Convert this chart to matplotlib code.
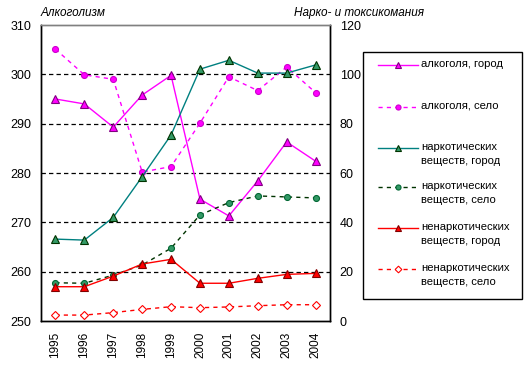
import matplotlib
matplotlib.use("Agg")
import matplotlib.pyplot as plt
from matplotlib.lines import Line2D
from matplotlib.patches import Rectangle

plt.rcParams['font.family'] = ['Liberation Sans', 'DejaVu Sans']

years = ['1995', '1996', '1997', '1998', '1999', '2000', '2001', '2002', '2003', '2004']
alc_city = [295.0, 294.0, 289.3, 295.8, 299.8, 274.7, 271.3, 278.4, 286.3, 282.4]
alc_village = [305.1, 299.9, 299.0, 280.2, 281.3, 290.1, 299.5, 296.7, 301.5, 296.3]
narc_city = [33.2, 32.8, 42.0, 58.5, 75.4, 102.1, 105.7, 100.5, 100.5, 103.8]
narc_village = [15.5, 15.3, 18.6, 22.7, 29.5, 43.0, 48.0, 50.7, 50.3, 49.9]
nonnarc_city = [13.9, 13.9, 18.2, 23.1, 25.0, 15.3, 15.3, 17.3, 18.9, 19.3]
nonnarc_village = [2.4, 2.4, 3.4, 4.7, 5.8, 5.4, 5.7, 6.2, 6.6, 6.6]

left_ticks = [250, 260, 270, 280, 290, 300, 310]
right_ticks = [0, 20, 40, 60, 80, 100, 120]

labels = ['алкоголя, город', 'алкоголя, село', 'наркотических\nвеществ, город',
          'наркотических\nвеществ, село', 'ненаркотических\nвеществ, город',
          'ненаркотических\nвеществ, село']

W, H = 530, 390
fig = plt.figure(figsize=(W / 100, H / 100), dpi=100)
L, R, T, B = 41, 330, 25, 321
ax = fig.add_axes([L / W, 1 - B / H, (R - L) / W, (B - T) / H])
ax2 = ax.twinx()

x = list(range(len(years)))
ax.set_xlim(-0.5, len(years) - 0.5)
ax.set_ylim(250, 310)
ax2.set_ylim(0, 120)

for v in [260, 270, 280, 290, 300]:
    ax.axhline(v, color='black', lw=0.9, ls=(0, (3.5, 2.5)), zorder=1)

styles = [
    dict(color='#FF00FF', ls='-', marker='^', mfc='#FF00FF', mec='#800080', ms=5.8),
    dict(color='#FF00FF', ls=(0, (3, 3)), marker='o', mfc='#FF00FF', mec='#CC00CC', ms=4.3),
    dict(color='#008080', ls='-', marker='^', mfc='#339966', mec='#003300', ms=5.8),
    dict(color='#003300', ls=(0, (3, 3)), marker='o', mfc='#339966', mec='#006633', ms=4.3),
    dict(color='#FF0000', ls='-', marker='^', mfc='#FF0000', mec='#800000', ms=5.8),
    dict(color='#FF0000', ls=(0, (3, 3)), marker='D', mfc='white', mec='#FF0000', ms=4.0),
]

series = [(ax, alc_city), (ax, alc_village), (ax2, narc_city), (ax2, narc_village),
          (ax2, nonnarc_city), (ax2, nonnarc_village)]
for (a, vals), st in zip(series, styles):
    a.plot(x, vals, lw=1.0, mew=0.8, zorder=3, **st)

ax.set_xticks(x)
ax.set_xticklabels(years, rotation=90, fontsize=8.5)
ax.set_yticks(left_ticks)
ax.set_yticklabels([str(t) for t in left_ticks], fontsize=9)
ax2.set_yticks(right_ticks)
ax2.set_yticklabels([str(t) for t in right_ticks], fontsize=9)
for a in (ax, ax2):
    a.tick_params(length=0, pad=7)
ax.tick_params(axis='x', pad=8)

for a in (ax, ax2):
    a.spines['top'].set_color('#808080')
    a.spines['top'].set_linewidth(1.0)
    a.spines['left'].set_linewidth(1.0)
    a.spines['right'].set_linewidth(1.0)
    a.spines['bottom'].set_linewidth(1.0)
ax2.patch.set_visible(False)

fig.text(41 / W, 1 - 13 / H, 'Алкоголизм', fontsize=8.5, style='italic', va='center', ha='left')
fig.text(294 / W, 1 - 13 / H, 'Нарко- и токсикомания', fontsize=8.5, style='italic', va='center', ha='left')

# legend box
lx0, lx1, ly0, ly1 = 363, 522, 52, 299
fig.patches.append(Rectangle((lx0 / W, 1 - ly1 / H), (lx1 - lx0) / W, (ly1 - ly0) / H,
                             transform=fig.transFigure, fill=False, ec='black', lw=1.0))
entry_y = [65, 107, 148, 187, 228, 269]
for yy, st, lab in zip(entry_y, styles, labels):
    fig.add_artist(Line2D([378 / W, 418 / W], [1 - yy / H, 1 - yy / H], transform=fig.transFigure,
                          color=st['color'], ls=st['ls'], lw=1.0))
    fig.add_artist(Line2D([398 / W], [1 - yy / H], transform=fig.transFigure, ls='none',
                          marker=st['marker'], mfc=st['mfc'], mec=st['mec'],
                          ms=st['ms'] * 0.85, mew=0.8))
    fig.text(421 / W, 1 - (yy - 6) / H, lab, fontsize=8.1, va='top', ha='left', linespacing=1.5)

fig.savefig('out.png', dpi=100)
